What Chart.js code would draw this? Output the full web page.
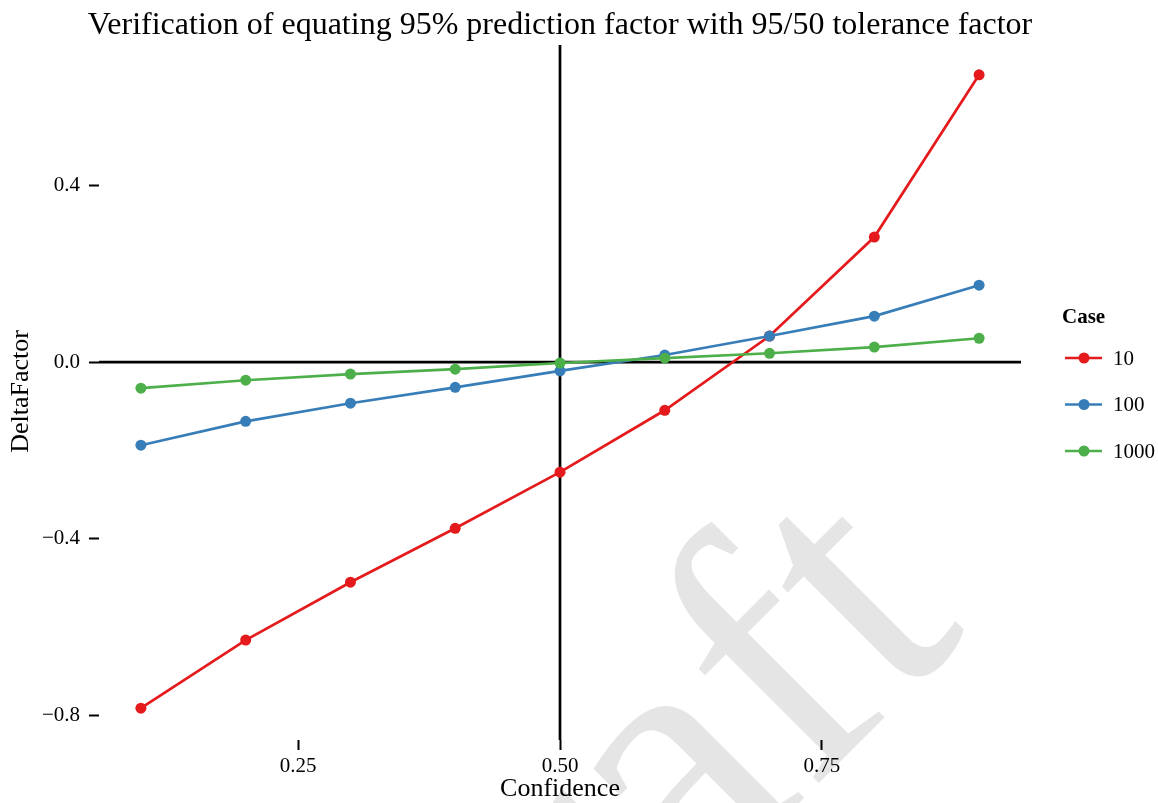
<!DOCTYPE html>
<html>
<head>
<meta charset="utf-8">
<script src="https://cdn.jsdelivr.net/npm/chart.js@4"></script>
<style>
  body { margin: 0; background: #fff; }
</style>
</head>
<body>
<canvas id="chart" width="1158" height="803"></canvas>
<script>
// values
const confidence = [0.1, 0.2, 0.3, 0.4, 0.5, 0.6, 0.7, 0.8, 0.9];
const case10 = [-0.783, -0.629, -0.498, -0.376, -0.249, -0.109, 0.059, 0.283, 0.650];
const case100 = [-0.188, -0.134, -0.093, -0.057, -0.020, 0.016, 0.059, 0.104, 0.174];
const case1000 = [-0.059, -0.041, -0.027, -0.016, -0.002, 0.009, 0.020, 0.034, 0.054];
const caseLabels = ['10', '100', '1000'];
const caseColors = ['#E41A1C', '#377EB8', '#4DAF4A'];
const xTicks = [0.25, 0.50, 0.75];
const yTicks = [-0.8, -0.4, 0.0, 0.4];

const serif = "'Liberation Serif', 'DejaVu Serif', serif";
const titleText = 'Verification of equating 95% prediction factor with 95/50 tolerance factor';

const toPoints = arr => arr.map((y, i) => ({ x: confidence[i], y: y }));

// reference lines at y = 0 and x = 0.5, drawn under the series
const refLines = {
    id: 'refLines',
    beforeDatasetsDraw(chart) {
        const { ctx, chartArea: a, scales } = chart;
        const y0 = scales.y.getPixelForValue(0);
        const x0 = scales.x.getPixelForValue(0.5);
        ctx.save();
        ctx.strokeStyle = '#000';
        ctx.lineWidth = 2.7;
        ctx.beginPath();
        ctx.moveTo(a.left, y0);
        ctx.lineTo(a.right, y0);
        ctx.moveTo(x0, a.top + 2);
        ctx.lineTo(x0, a.bottom);
        ctx.stroke();
        ctx.restore();
    }
};

// big grey "Draft" watermark
const watermark = {
    id: 'watermark',
    beforeDraw(chart) {
        const ctx = chart.ctx;
        ctx.save();
        ctx.translate(690, 912);
        ctx.rotate(-Math.PI / 4);
        ctx.fillStyle = '#e5e5e5';
        ctx.font = '375px ' + serif;
        ctx.textAlign = 'center';
        ctx.textBaseline = 'alphabetic';
        ctx.fillText('Draft', 0, 0);
        ctx.restore();
    }
};

// title centred over the panel + legend with line-and-dot keys
const titleAndLegend = {
    id: 'titleAndLegend',
    afterDraw(chart) {
        const { ctx, chartArea: a } = chart;
        ctx.save();
        ctx.fillStyle = '#000';
        ctx.font = '32px ' + serif;
        ctx.textAlign = 'center';
        ctx.textBaseline = 'alphabetic';
        ctx.fillText(titleText, (a.left + a.right) / 2, 34);

        ctx.textAlign = 'left';
        ctx.textBaseline = 'middle';
        ctx.font = 'bold 21px ' + serif;
        ctx.fillText('Case', 1062, 318);
        ctx.font = '21px ' + serif;
        chart.data.datasets.forEach((ds, i) => {
            const y = 358 + i * 46.5;
            ctx.strokeStyle = ds.borderColor;
            ctx.lineWidth = 2.7;
            ctx.beginPath();
            ctx.moveTo(1065, y);
            ctx.lineTo(1102, y);
            ctx.stroke();
            ctx.fillStyle = ds.backgroundColor;
            ctx.beginPath();
            ctx.arc(1084, y, 5.5, 0, Math.PI * 2);
            ctx.fill();
            ctx.fillStyle = '#000';
            ctx.fillText(ds.label, 1113, y + 1);
        });
        ctx.restore();
    }
};

const seriesValues = [case10, case100, case1000];
const datasets = seriesValues.map((vals, i) => ({
    label: caseLabels[i],
    data: toPoints(vals),
    borderColor: caseColors[i],
    backgroundColor: caseColors[i],
    borderWidth: 2.7,
    pointRadius: 5.5,
    pointBorderWidth: 0,
    pointHoverRadius: 5.5,
    tension: 0,
    order: 3 - i
}));

const axisTicks = {
    drawOnChartArea: false,
    drawTicks: true,
    tickLength: 10,
    tickWidth: 2,
    tickColor: '#000'
};

new Chart(document.getElementById('chart'), {
    type: 'line',
    data: { datasets: datasets },
    options: {
        responsive: false,
        animation: false,
        layout: { padding: { top: 43, right: 137, left: 0, bottom: 0 } },
        plugins: {
            legend: { display: false },
            title: { display: false },
            tooltip: { enabled: false }
        },
        scales: {
            x: {
                type: 'linear',
                min: 0.06,
                max: 0.94,
                afterBuildTicks: s => { s.ticks = xTicks.map(v => ({ value: v })); },
                afterFit: s => { s.height = 63; },
                grid: axisTicks,
                border: { display: false },
                ticks: {
                    color: '#000',
                    padding: 4,
                    maxRotation: 0,
                    font: { family: serif, size: 21 },
                    callback: v => v.toFixed(2)
                },
                title: {
                    display: true,
                    text: 'Confidence',
                    color: '#000',
                    padding: { top: 0, bottom: -2 },
                    font: { family: serif, size: 26 }
                }
            },
            y: {
                type: 'linear',
                min: -0.855,
                max: 0.722,
                afterBuildTicks: s => { s.ticks = yTicks.map(v => ({ value: v })); },
                afterFit: s => { s.width = 99; },
                grid: axisTicks,
                border: { display: false },
                ticks: {
                    color: '#000',
                    padding: 9,
                    font: { family: serif, size: 21 },
                    callback: v => v.toFixed(1).replace('-', '\u2212')
                },
                title: {
                    display: true,
                    text: 'DeltaFactor',
                    color: '#000',
                    padding: { top: 6, bottom: 0 },
                    font: { family: serif, size: 26 }
                }
            }
        }
    },
    plugins: [watermark, refLines, titleAndLegend]
});
</script>
</body>
</html>
